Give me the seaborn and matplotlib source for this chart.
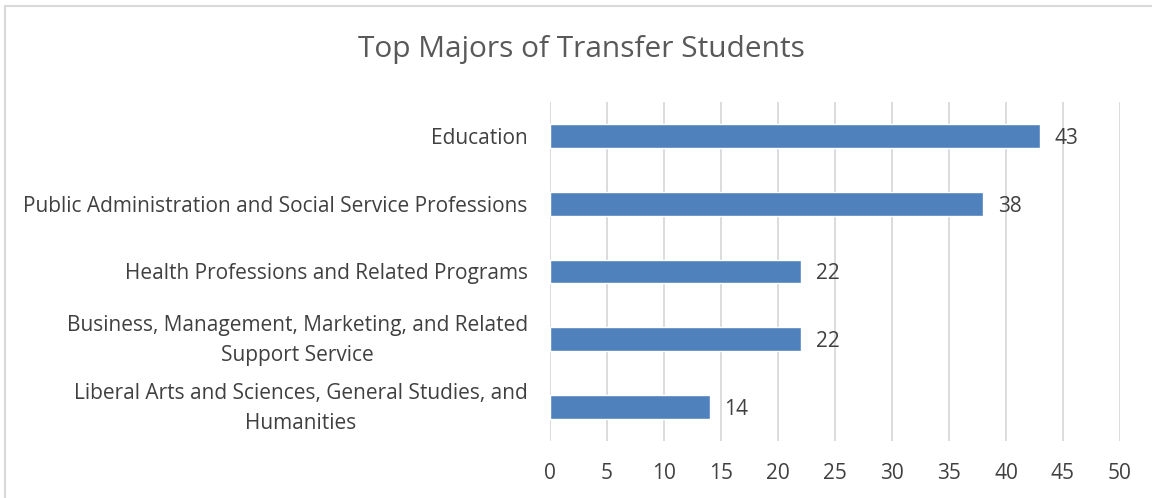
import matplotlib
matplotlib.use("Agg")
import matplotlib.pyplot as plt
import matplotlib.transforms as mtransforms
from matplotlib.patches import Rectangle
import pandas as pd
import seaborn as sns

# data
majors = [
    "Education",
    "Public Administration and Social Service Professions",
    "Health Professions and Related Programs",
    "Business, Management, Marketing, and Related\nSupport Service",
    "Liberal Arts and Sciences, General Studies, and\nHumanities",
]
students = [43, 38, 22, 22, 14]
x_ticks = list(range(0, 55, 5))

df = pd.DataFrame({"major": majors, "students": students})

sns.set_theme(style="white")
plt.rcParams["font.family"] = ["Open Sans", "DejaVu Sans"]

text_color = "#404040"
fig = plt.figure(figsize=(11.52, 4.98), dpi=100)
ax = fig.add_axes([0.4774, 0.1145, 0.4948, 0.6807])

sns.barplot(data=df, x="students", y="major", orient="h", color="#4F81BD",
            width=0.35, saturation=1, ax=ax)

ax.set_xlim(0, 50)
ax.set_xticks(x_ticks)
ax.set_ylim(4.5, -0.5)
ax.set_xlabel("")
ax.set_ylabel("")
ax.xaxis.grid(True, color="#d9d9d9", linewidth=1.3)
ax.set_axisbelow(True)
for s in ax.spines.values():
    s.set_visible(False)
ax.tick_params(axis="both", length=0, labelsize=15, colors=text_color)
ax.tick_params(axis="x", pad=16)
ax.tick_params(axis="y", pad=16)

# two-line labels sit a little higher in the original
shift_up = mtransforms.ScaledTranslation(0, 6 / 100, fig.dpi_scale_trans)
for lbl in ax.get_yticklabels():
    lbl.set_multialignment("center")
    lbl.set_linespacing(1.6)
    if "\n" in lbl.get_text():
        lbl.set_transform(lbl.get_transform() + shift_up)

for i, v in enumerate(students):
    ax.text(v + 1.3, i, str(v), va="center_baseline", ha="left", fontsize=15,
            color=text_color)

fig.text(0.505, 0.9, "Top Majors of Transfer Students", ha="center", va="center",
         fontsize=21.5, color="#595959")

fig.patches.append(Rectangle((0.0045, -0.01), 1.0, 0.998, transform=fig.transFigure,
                             fill=False, edgecolor="#d9d9d9", linewidth=1.5))

fig.savefig("out.png", dpi=100)
